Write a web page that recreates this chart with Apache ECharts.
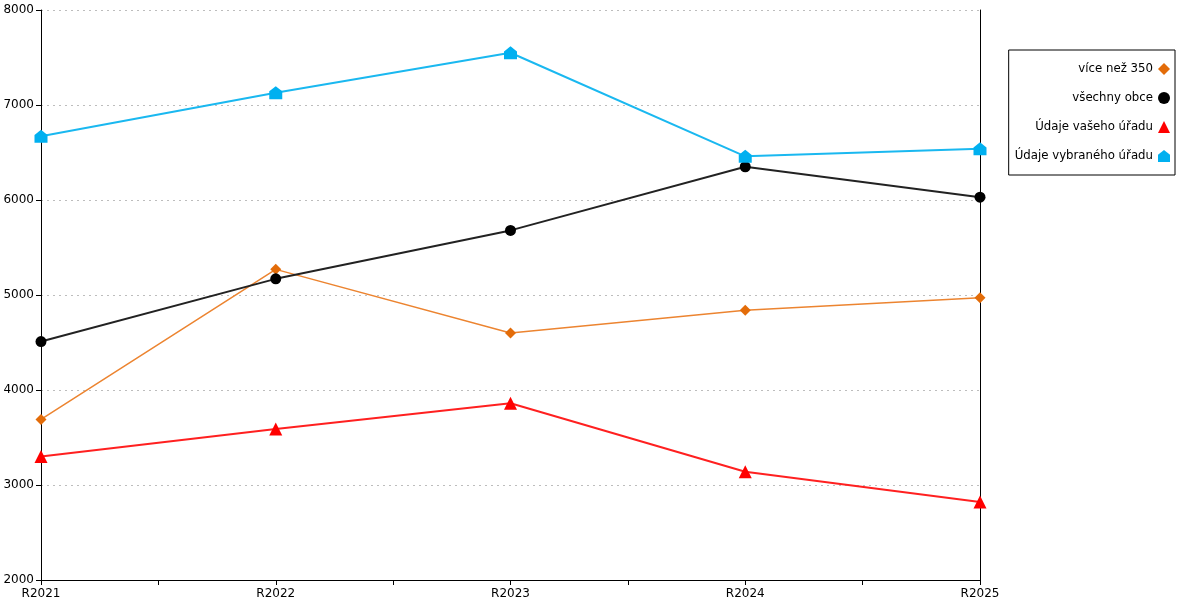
<!DOCTYPE html>
<html>
<head>
<meta charset="utf-8">
<script src="https://cdn.jsdelivr.net/npm/echarts@6/dist/echarts.min.js"></script>
<style>
  html, body { margin: 0; padding: 0; background: #fff; }
  #chart { width: 1200px; height: 600px; }
</style>
</head>
<body>
<div id="chart"></div>
<script>
// categories and series
const categories = ["R2021", "R2022", "R2023", "R2024", "R2025"];
const viceNez350 = [3690, 5270, 4600, 4840, 4970];
const vsechnyObce = [4510, 5170, 5680, 6350, 6030];
const vaseUrad = [3300, 3590, 3860, 3140, 2820];
const vybranyUrad = [6670, 7130, 7550, 6460, 6540];

const FONT = "DejaVu Sans";
const housePath = "path://M0,4 L5,0 L10,4 L10,10 L0,10 Z";

// pair each value with its category index (x axis is numeric so ticks fall at half steps)
const toPoints = arr => arr.map((v, i) => [i, v]);

const mk = (name, data, color, lineColor, symbol, size, width) => ({
  name,
  type: "line",
  data: toPoints(data),
  symbol,
  symbolSize: size,
  showAllSymbol: true,
  itemStyle: { color },
  lineStyle: { color: lineColor, width },
  emphasis: { disabled: true },
  z: 3
});

const chart = echarts.init(document.getElementById("chart"));
chart.setOption({
  animation: false,
  textStyle: { fontFamily: FONT },
  grid: { left: 41, right: 220, top: 10, bottom: 20, containLabel: false },
  legend: {
    orient: "vertical",
    right: 25,
    top: 50,
    align: "right",
    borderColor: "#000",
    borderWidth: 1,
    padding: [13, 5, 13, 6],
    itemWidth: 12,
    itemHeight: 12,
    itemGap: 17,
    textStyle: { fontFamily: FONT, fontSize: 11.75, color: "#000" },
    data: [
      { name: "více než 350", icon: "diamond" },
      { name: "všechny obce", icon: "circle" },
      { name: "Údaje vašeho úřadu", icon: "triangle" },
      { name: "Údaje vybraného úřadu", icon: housePath }
    ]
  },
  xAxis: {
    type: "value",
    min: 0,
    max: categories.length - 1,
    interval: 0.5,
    axisLine: { show: true, lineStyle: { color: "#000", width: 1 } },
    axisTick: { show: true, length: 5, lineStyle: { color: "#000" } },
    splitLine: { show: false },
    axisLabel: {
      color: "#000",
      fontFamily: FONT,
      fontSize: 12,
      margin: 8,
      formatter: v => Number.isInteger(v) ? categories[v] : ""
    }
  },
  yAxis: [
    {
      type: "value",
      min: 2000,
      max: 8000,
      interval: 1000,
      axisLine: { show: true, lineStyle: { color: "#000", width: 1 } },
      axisTick: { show: true, length: 5, lineStyle: { color: "#000" } },
      axisLabel: { color: "#000", fontFamily: FONT, fontSize: 12, margin: 7, formatter: v => String(v) },
      splitLine: { show: true, lineStyle: { color: "#bdbdbd", type: [2, 4], width: 1 } }
    },
    {
      type: "value",
      position: "right",
      min: 2000,
      max: 8000,
      interval: 1000,
      axisLine: { show: true, lineStyle: { color: "#000", width: 1 } },
      axisTick: { show: false },
      axisLabel: { show: false },
      splitLine: { show: false }
    }
  ],
  series: [
    mk("více než 350", viceNez350, "#e36c09", "#ec8430", "diamond", 11, 1.5),
    mk("všechny obce", vsechnyObce, "#000000", "#222222", "circle", 11, 2),
    mk("Údaje vašeho úřadu", vaseUrad, "#ff0000", "#ff2020", "triangle", 13, 2),
    mk("Údaje vybraného úřadu", vybranyUrad, "#00b0f0", "#1ab8f0", housePath, 13, 2)
  ]
});
</script>
</body>
</html>
